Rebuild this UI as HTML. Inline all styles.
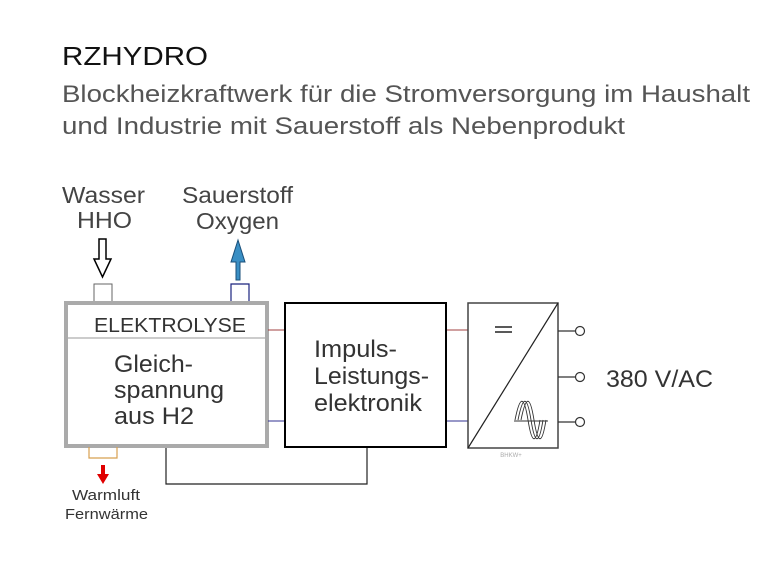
<!DOCTYPE html>
<html><head><meta charset="utf-8"><style>html,body{margin:0;padding:0;background:#fff}svg{display:block}text{font-family:"Liberation Sans",Arial,sans-serif}</style></head>
<body>
<svg width="783" height="587" viewBox="0 0 783 587" xmlns="http://www.w3.org/2000/svg">
<rect width="783" height="587" fill="#fff"/>
<text x="62" y="65" font-size="26" fill="#111" textLength="146" lengthAdjust="spacingAndGlyphs">RZHYDRO</text>
<text x="62" y="102" font-size="24.5" fill="#555" textLength="688" lengthAdjust="spacingAndGlyphs">Blockheizkraftwerk für die Stromversorgung im Haushalt</text>
<text x="62" y="134" font-size="24.5" fill="#555" textLength="563" lengthAdjust="spacingAndGlyphs">und Industrie mit Sauerstoff als Nebenprodukt</text>

<text x="62" y="203" font-size="23" fill="#444" textLength="83" lengthAdjust="spacingAndGlyphs">Wasser</text>
<text x="77" y="228" font-size="23" fill="#444" textLength="55" lengthAdjust="spacingAndGlyphs">HHO</text>
<text x="182" y="203" font-size="23" fill="#444" textLength="111" lengthAdjust="spacingAndGlyphs">Sauerstoff</text>
<text x="196" y="229" font-size="23" fill="#444" textLength="83" lengthAdjust="spacingAndGlyphs">Oxygen</text>

<polygon points="99,239 106,239 106,259 111,259 102.5,277 94,259 99,259" fill="#fff" stroke="#000" stroke-width="1.5"/>
<polygon points="236,280 240,280 240,262 245,262 238,240 231,262 236,262" fill="#3a8fc4" stroke="#1a4f7a" stroke-width="1"/>

<rect x="94" y="284" width="18" height="18" fill="#fff" stroke="#666" stroke-width="1"/>
<path d="M231,302 V284 H249 V302" fill="none" stroke="#1a237e" stroke-width="1.2"/>

<rect x="66" y="303" width="201" height="143" fill="#fff" stroke="#aaa" stroke-width="4"/>
<line x1="68" y1="338" x2="265" y2="338" stroke="#bbb" stroke-width="1.5"/>
<text x="94" y="332" font-size="20" fill="#333" textLength="152" lengthAdjust="spacingAndGlyphs">ELEKTROLYSE</text>
<text x="114" y="372" font-size="24" fill="#333" textLength="79" lengthAdjust="spacingAndGlyphs">Gleich-</text>
<text x="114" y="398" font-size="24" fill="#333" textLength="110" lengthAdjust="spacingAndGlyphs">spannung</text>
<text x="114" y="424" font-size="24" fill="#333" textLength="80" lengthAdjust="spacingAndGlyphs">aus H2</text>

<path d="M89,447 V458 H117 V447" fill="none" stroke="#d8a050" stroke-width="1.2"/>
<polygon points="101,465 105,465 105,474 109,474 103,484 97,474 101,474" fill="#e00000"/>
<text x="72" y="500" font-size="15" fill="#333" textLength="68" lengthAdjust="spacingAndGlyphs">Warmluft</text>
<text x="65" y="519" font-size="15" fill="#333" textLength="83" lengthAdjust="spacingAndGlyphs">Fernwärme</text>

<line x1="268" y1="330" x2="285" y2="330" stroke="#a04040" stroke-width="1"/>
<line x1="268" y1="421" x2="285" y2="421" stroke="#303090" stroke-width="1"/>
<line x1="446" y1="330" x2="468" y2="330" stroke="#a04040" stroke-width="1"/>
<line x1="446" y1="421" x2="468" y2="421" stroke="#303090" stroke-width="1"/>
<path d="M166,448 V484 H367 V448" fill="none" stroke="#222" stroke-width="1.2"/>

<rect x="285" y="303" width="161" height="144" fill="#fff" stroke="#000" stroke-width="2"/>
<text x="314" y="357" font-size="24" fill="#333" textLength="83" lengthAdjust="spacingAndGlyphs">Impuls-</text>
<text x="314" y="384" font-size="24" fill="#333" textLength="115" lengthAdjust="spacingAndGlyphs">Leistungs-</text>
<text x="314" y="411" font-size="24" fill="#333" textLength="108" lengthAdjust="spacingAndGlyphs">elektronik</text>

<rect x="468" y="303" width="90" height="145" fill="#fff" stroke="#444" stroke-width="1.5"/>
<line x1="468" y1="448" x2="558" y2="303" stroke="#222" stroke-width="1.2"/>
<line x1="495" y1="327" x2="512" y2="327" stroke="#222" stroke-width="1.5"/>
<line x1="495" y1="332" x2="512" y2="332" stroke="#222" stroke-width="1.5"/>
<g fill="none" stroke="#333" stroke-width="0.9">
<path d="M515,420 C520,395 524,395 528,420 S536,445 540,420"/>
<path d="M518,420 C523,395 527,395 531,420 S539,445 543,420"/>
<path d="M521,420 C526,395 530,395 534,420 S542,445 546,420"/>
<line x1="514" y1="421" x2="548" y2="421"/>
</g>
<text x="511" y="457" font-size="6" fill="#aaa" text-anchor="middle">BHKW+</text>

<g stroke="#333" stroke-width="1.2" fill="#fff">
<line x1="558" y1="331" x2="575" y2="331"/><circle cx="580" cy="331" r="4.5"/>
<line x1="558" y1="377" x2="575" y2="377"/><circle cx="580" cy="377" r="4.5"/>
<line x1="558" y1="422" x2="575" y2="422"/><circle cx="580" cy="422" r="4.5"/>
</g>
<text x="606" y="387" font-size="24" fill="#333" textLength="107" lengthAdjust="spacingAndGlyphs">380 V/AC</text>
</svg>
</body></html>
